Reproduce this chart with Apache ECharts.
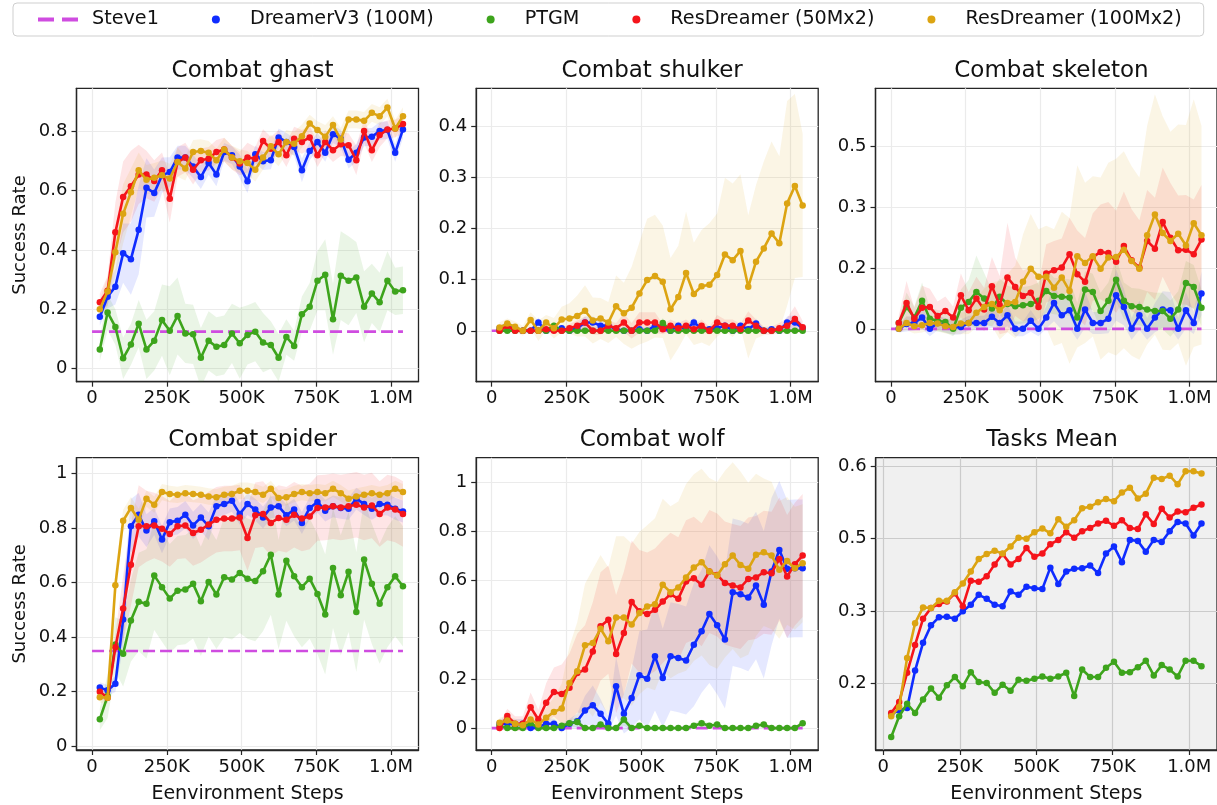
<!DOCTYPE html>
<html><head><meta charset="utf-8">
<script src="https://cdn.jsdelivr.net/npm/echarts@6/dist/echarts.min.js"></script>
<style>html,body{margin:0;padding:0;background:#fff}#c{width:1217px;height:805px}</style>
</head><body><div id="c"></div>
<script>
// ---------- DATA ----------
const methods = ['DreamerV3 (100M)', 'PTGM', 'ResDreamer (50Mx2)', 'ResDreamer (100Mx2)'];
const steps = [26000,52000,78000,104000,130000,156000,182000,208000,234000,260000,286000,312000,338000,364000,390000,416000,442000,468000,494000,520000,546000,572000,598000,624000,650000,676000,702000,728000,754000,780000,806000,832000,858000,884000,910000,936000,962000,988000,1014000,1040000];
const steveSteps = [0, 1040000];
const xTickVals = [0, 250000, 500000, 750000, 1000000];
const xTickLabels = ['0', '250K', '500K', '750K', '1.0M'];

// Combat ghast
const ghast_steve = 0.124;
const ghast_dreamer = [0.174,0.242,0.276,0.389,0.369,0.468,0.61,0.592,0.652,0.663,0.712,0.712,0.682,0.646,0.694,0.655,0.731,0.72,0.682,0.632,0.723,0.70,0.703,0.78,0.765,0.748,0.669,0.734,0.765,0.728,0.791,0.776,0.705,0.728,0.78,0.782,0.802,0.805,0.728,0.807];
const ghast_ptgm = [0.064,0.189,0.14,0.034,0.081,0.151,0.064,0.093,0.163,0.127,0.177,0.118,0.115,0.036,0.093,0.073,0.079,0.118,0.085,0.113,0.124,0.087,0.079,0.036,0.106,0.076,0.183,0.208,0.296,0.316,0.166,0.313,0.296,0.307,0.208,0.253,0.223,0.296,0.26,0.264];
const ghast_res50 = [0.223,0.262,0.46,0.579,0.615,0.655,0.655,0.633,0.669,0.573,0.697,0.712,0.671,0.703,0.708,0.731,0.739,0.712,0.692,0.712,0.708,0.768,0.742,0.765,0.72,0.776,0.765,0.78,0.72,0.765,0.737,0.757,0.754,0.703,0.802,0.737,0.788,0.807,0.81,0.825];
const ghast_res100 = [0.2,0.26,0.392,0.522,0.595,0.669,0.637,0.644,0.652,0.641,0.697,0.675,0.731,0.734,0.728,0.703,0.739,0.712,0.70,0.694,0.671,0.712,0.75,0.723,0.765,0.759,0.784,0.827,0.805,0.782,0.822,0.773,0.841,0.841,0.836,0.863,0.852,0.881,0.81,0.852];
const ghast_dreamer_sd = [0.03,0.04,0.06,0.1,0.12,0.15,0.1,0.08,0.06,0.05,0.04,0.04,0.04,0.04,0.04,0.04,0.03,0.03,0.04,0.04,0.03,0.03,0.03,0.03,0.03,0.03,0.04,0.03,0.03,0.03,0.03,0.03,0.03,0.03,0.03,0.03,0.03,0.03,0.03,0.03];
const ghast_ptgm_sd = [0.04,0.06,0.06,0.07,0.07,0.08,0.1,0.1,0.12,0.15,0.13,0.1,0.1,0.1,0.1,0.1,0.1,0.1,0.12,0.1,0.1,0.1,0.08,0.08,0.06,0.05,0.06,0.08,0.1,0.12,0.12,0.15,0.15,0.12,0.12,0.1,0.1,0.1,0.08,0.08];
const ghast_res50_sd = [0.03,0.05,0.1,0.12,0.12,0.1,0.08,0.07,0.06,0.08,0.05,0.05,0.05,0.04,0.04,0.04,0.04,0.04,0.04,0.05,0.04,0.04,0.04,0.04,0.04,0.04,0.04,0.04,0.04,0.04,0.04,0.04,0.04,0.05,0.04,0.04,0.04,0.03,0.03,0.03];
const ghast_res100_sd = [0.03,0.05,0.08,0.1,0.08,0.06,0.05,0.05,0.05,0.05,0.05,0.04,0.04,0.04,0.04,0.04,0.04,0.04,0.04,0.04,0.04,0.04,0.04,0.04,0.04,0.04,0.04,0.03,0.03,0.04,0.03,0.04,0.03,0.03,0.03,0.03,0.03,0.03,0.03,0.03];
const ghast_yTicks = [0, 0.2, 0.4, 0.6, 0.8];
const ghast_yLabels = ['0', '0.2', '0.4', '0.6', '0.8'];

// Combat shulker
const shulker_steve = 0;
const shulker_dreamer = [0.005,0.01,0.005,0,0,0.016,0,0.003,0.005,0,0.005,0.016,0.016,0.01,0.01,0.003,0,0,0.003,0,0.01,0.005,0,0.01,0.003,0.016,0.005,0.003,0.005,0.01,0,0.01,0.003,0.014,0,0.003,0,0.016,0.016,0.005];
const shulker_ptgm = [0,0,0,0,0,0,0,0.01,0,0,0,0,0,0,0,0,0,0,0,0,0,0.015,0,0,0,0,0,0,0,0,0,0,0,0,0,0,0,0,0,0];
const shulker_res50 = [0,0.01,0,0,0,0,0.003,0,0,0.005,0.01,0.016,0,0,0.01,0.005,0.016,0,0.016,0.016,0.016,0.003,0.01,0.005,0.01,0.003,0.01,0,0.016,0.01,0.01,0.003,0.02,0.01,0,0,0.005,0.01,0.023,0.007];
const shulker_res100 = [0.0065,0.014,0.008,0,0.021,0,0.016,0.005,0.022,0.024,0.029,0.039,0.02,0.024,0.016,0.048,0.034,0.045,0.073,0.099,0.107,0.096,0.042,0.066,0.113,0.072,0.087,0.09,0.109,0.149,0.138,0.156,0.086,0.135,0.161,0.19,0.171,0.249,0.283,0.245];
const shulker_dreamer_sd = [0.005,0.008,0.005,0.005,0.005,0.01,0.005,0.005,0.005,0.005,0.008,0.012,0.012,0.01,0.008,0.005,0.005,0.005,0.005,0.005,0.008,0.005,0.005,0.008,0.005,0.01,0.005,0.005,0.005,0.008,0.005,0.008,0.005,0.01,0.005,0.005,0.005,0.012,0.015,0.008];
const shulker_ptgm_sd = [0.003,0.003,0.003,0.003,0.003,0.003,0.003,0.008,0.003,0.003,0.003,0.003,0.003,0.003,0.003,0.003,0.003,0.003,0.003,0.003,0.003,0.01,0.003,0.003,0.003,0.003,0.003,0.003,0.003,0.003,0.003,0.003,0.003,0.003,0.003,0.003,0.003,0.003,0.003,0.003];
const shulker_res50_sd = [0.005,0.008,0.005,0.005,0.005,0.005,0.005,0.005,0.005,0.008,0.01,0.012,0.008,0.008,0.01,0.01,0.018,0.015,0.02,0.02,0.02,0.01,0.012,0.01,0.012,0.008,0.012,0.008,0.015,0.012,0.012,0.01,0.018,0.012,0.008,0.008,0.01,0.015,0.025,0.012];
const shulker_res100_sd = [0.01,0.01,0.01,0.01,0.015,0.02,0.015,0.02,0.025,0.03,0.04,0.05,0.045,0.04,0.04,0.06,0.06,0.08,0.1,0.12,0.12,0.11,0.1,0.1,0.12,0.1,0.11,0.12,0.12,0.15,0.15,0.15,0.14,0.15,0.17,0.18,0.17,0.2,0.18,0.14];
const shulker_yTicks = [0, 0.1, 0.2, 0.3, 0.4];
const shulker_yLabels = ['0', '0.1', '0.2', '0.3', '0.4'];

// Combat skeleton
const skeleton_steve = 0;
const skeleton_dreamer = [0,0.013,0.016,0.031,0,0.016,0.01,0.004,0.005,0.016,0.016,0.016,0.033,0.016,0.037,0,0,0.022,0,0.031,0.071,0.037,0.051,0,0.053,0.016,0.016,0.028,0.092,0.06,0,0.037,0,0.031,0.053,0.051,0,0.051,0.016,0.097];
const skeleton_ptgm = [0.016,0.06,0.031,0.077,0.028,0.022,0.019,0,0.058,0.074,0.101,0.083,0.056,0.088,0.068,0.062,0.065,0.068,0.077,0.104,0.09,0.088,0.086,0.031,0.108,0.101,0.049,0.077,0.135,0.077,0.062,0.06,0.053,0.049,0.049,0.028,0.053,0.126,0.115,0.058];
const skeleton_res50 = [0.016,0.071,0.028,0.058,0.06,0.035,0.049,0.031,0.092,0.051,0.083,0.053,0.117,0.065,0.141,0.115,0.09,0.099,0.06,0.152,0.161,0.168,0.205,0.15,0.129,0.197,0.211,0.208,0.184,0.227,0.188,0.168,0.241,0.22,0.293,0.25,0.216,0.217,0.205,0.245];
const skeleton_res100 = [0,0.016,0.007,0.01,0.016,0.015,0.007,0.005,0.015,0.016,0.044,0.06,0.068,0.051,0.071,0.074,0.129,0.165,0.143,0.143,0.113,0.141,0.104,0.199,0.181,0.199,0.165,0.196,0.197,0.217,0.186,0.165,0.257,0.314,0.263,0.241,0.261,0.229,0.29,0.257];
const skeleton_dreamer_sd = [0.01,0.02,0.02,0.03,0.02,0.02,0.02,0.02,0.02,0.02,0.02,0.02,0.03,0.02,0.03,0.02,0.02,0.03,0.02,0.03,0.05,0.04,0.05,0.03,0.05,0.03,0.03,0.04,0.07,0.05,0.03,0.04,0.03,0.04,0.05,0.05,0.03,0.05,0.03,0.06];
const skeleton_ptgm_sd = [0.01,0.04,0.03,0.05,0.03,0.03,0.03,0.02,0.05,0.06,0.1,0.07,0.05,0.05,0.05,0.05,0.05,0.05,0.05,0.06,0.05,0.05,0.05,0.04,0.05,0.05,0.05,0.05,0.06,0.05,0.05,0.05,0.05,0.05,0.05,0.05,0.05,0.06,0.06,0.05];
const skeleton_res50_sd = [0.02,0.06,0.03,0.06,0.05,0.04,0.04,0.03,0.06,0.05,0.06,0.06,0.08,0.08,0.15,0.08,0.07,0.07,0.06,0.08,0.08,0.08,0.1,0.12,0.12,0.12,0.13,0.14,0.14,0.15,0.14,0.13,0.14,0.14,0.15,0.15,0.15,0.15,0.15,0.15];
const skeleton_res100_sd = [0.01,0.02,0.02,0.02,0.02,0.02,0.02,0.02,0.03,0.03,0.04,0.05,0.06,0.08,0.08,0.1,0.13,0.15,0.13,0.14,0.16,0.18,0.2,0.25,0.22,0.22,0.25,0.26,0.27,0.27,0.26,0.25,0.3,0.33,0.32,0.3,0.3,0.33,0.34,0.3];
const skeleton_yTicks = [0, 0.1667, 0.3333, 0.5];
const skeleton_yLabels = ['0', '0.2', '0.3', '0.5'];

// Combat spider
const spider_steve = 0.349;
const spider_dreamer = [0.215,0.205,0.229,0.464,0.806,0.848,0.79,0.824,0.757,0.821,0.826,0.848,0.809,0.838,0.806,0.879,0.887,0.899,0.851,0.887,0.867,0.838,0.875,0.879,0.846,0.867,0.818,0.873,0.895,0.863,0.879,0.873,0.87,0.907,0.887,0.87,0.887,0.885,0.87,0.86];
const spider_ptgm = [0.099,0.184,0.373,0.339,0.461,0.529,0.522,0.626,0.583,0.541,0.57,0.574,0.595,0.531,0.602,0.556,0.619,0.611,0.635,0.614,0.605,0.641,0.702,0.556,0.68,0.623,0.583,0.614,0.558,0.483,0.653,0.553,0.639,0.492,0.684,0.595,0.522,0.583,0.623,0.586];
const spider_res50 = [0.2,0.178,0.363,0.505,0.665,0.806,0.806,0.809,0.797,0.778,0.806,0.809,0.781,0.793,0.812,0.83,0.834,0.834,0.838,0.763,0.846,0.851,0.818,0.836,0.83,0.848,0.834,0.842,0.873,0.875,0.879,0.875,0.879,0.885,0.875,0.882,0.851,0.875,0.867,0.851];
const spider_res100 = [0.18,0.178,0.59,0.826,0.873,0.83,0.907,0.885,0.931,0.924,0.921,0.927,0.924,0.921,0.915,0.912,0.921,0.924,0.936,0.936,0.931,0.921,0.943,0.909,0.912,0.924,0.931,0.927,0.931,0.927,0.943,0.927,0.907,0.915,0.921,0.927,0.921,0.927,0.943,0.931];
const spider_dreamer_sd = [0.02,0.02,0.03,0.1,0.1,0.08,0.06,0.05,0.05,0.05,0.05,0.05,0.05,0.05,0.05,0.04,0.04,0.04,0.04,0.04,0.04,0.04,0.04,0.04,0.04,0.04,0.04,0.04,0.04,0.04,0.04,0.04,0.04,0.04,0.04,0.04,0.04,0.04,0.04,0.04];
const spider_ptgm_sd = [0.04,0.08,0.1,0.12,0.15,0.18,0.2,0.2,0.2,0.2,0.2,0.2,0.2,0.2,0.2,0.2,0.22,0.22,0.22,0.22,0.22,0.22,0.22,0.2,0.22,0.22,0.22,0.22,0.22,0.22,0.22,0.22,0.22,0.22,0.22,0.22,0.22,0.22,0.22,0.22];
const spider_res50_sd = [0.02,0.02,0.05,0.12,0.15,0.15,0.13,0.12,0.12,0.12,0.12,0.12,0.12,0.12,0.12,0.12,0.12,0.12,0.12,0.12,0.12,0.12,0.12,0.12,0.12,0.12,0.12,0.12,0.12,0.12,0.12,0.12,0.12,0.12,0.12,0.12,0.12,0.12,0.12,0.12];
const spider_res100_sd = [0.02,0.02,0.05,0.04,0.04,0.04,0.03,0.03,0.03,0.03,0.03,0.03,0.03,0.03,0.03,0.03,0.03,0.03,0.03,0.03,0.03,0.03,0.03,0.03,0.03,0.03,0.03,0.03,0.03,0.03,0.03,0.03,0.03,0.03,0.03,0.03,0.03,0.03,0.03,0.03];
const spider_yTicks = [0, 0.2, 0.4, 0.6, 0.8, 1];
const spider_yLabels = ['0', '0.2', '0.4', '0.6', '0.8', '1'];

// Combat wolf
const wolf_steve = 0;
const wolf_dreamer = [0.018,0.018,0.015,0.018,0,0.004,0.018,0.018,0,0.018,0.028,0.072,0.093,0.058,0.018,0.17,0.058,0.123,0.215,0.201,0.292,0.204,0.292,0.285,0.275,0.339,0.394,0.464,0.418,0.36,0.553,0.545,0.531,0.58,0.502,0.637,0.725,0.648,0.65,0.65];
const wolf_ptgm = [0.01,0,0,0,0.02,0,0,0,0.01,0.02,0.025,0,0,0.015,0,0,0.035,0,0.01,0,0,0,0,0,0,0.01,0.02,0.01,0.015,0,0,0,0,0.01,0.015,0,0,0,0,0.02];
const wolf_res50 = [0,0.049,0.018,0.018,0.085,0.035,0.103,0.147,0.139,0.164,0.224,0.238,0.312,0.414,0.441,0.302,0.387,0.513,0.475,0.464,0.481,0.515,0.545,0.526,0.596,0.61,0.583,0.637,0.623,0.59,0.58,0.572,0.607,0.613,0.634,0.63,0.688,0.617,0.667,0.702];
const wolf_res100 = [0.022,0.031,0.018,0.012,0.035,0.015,0.042,0.066,0.08,0.184,0.231,0.337,0.346,0.404,0.353,0.45,0.45,0.421,0.468,0.495,0.504,0.583,0.553,0.572,0.613,0.653,0.675,0.637,0.621,0.667,0.702,0.664,0.648,0.705,0.715,0.702,0.644,0.68,0.65,0.671];
const wolf_dreamer_sd = [0.02,0.02,0.02,0.02,0.01,0.01,0.02,0.02,0.01,0.02,0.03,0.06,0.08,0.06,0.03,0.12,0.08,0.12,0.18,0.2,0.22,0.2,0.22,0.22,0.22,0.25,0.25,0.28,0.28,0.28,0.3,0.3,0.3,0.3,0.3,0.3,0.28,0.28,0.28,0.28];
const wolf_ptgm_sd = [0.01,0.005,0.005,0.005,0.015,0.005,0.005,0.005,0.01,0.015,0.02,0.005,0.005,0.012,0.005,0.005,0.025,0.005,0.01,0.005,0.005,0.005,0.005,0.005,0.005,0.01,0.015,0.01,0.012,0.005,0.005,0.005,0.005,0.01,0.012,0.005,0.005,0.005,0.005,0.015];
const wolf_res50_sd = [0.02,0.03,0.03,0.03,0.06,0.04,0.08,0.1,0.12,0.14,0.16,0.18,0.2,0.22,0.22,0.24,0.25,0.25,0.25,0.25,0.25,0.25,0.25,0.25,0.25,0.25,0.25,0.25,0.25,0.25,0.25,0.25,0.25,0.25,0.25,0.25,0.25,0.25,0.25,0.25];
const wolf_res100_sd = [0.02,0.02,0.02,0.02,0.03,0.03,0.04,0.06,0.1,0.15,0.2,0.25,0.3,0.3,0.3,0.33,0.33,0.33,0.33,0.33,0.35,0.35,0.35,0.35,0.38,0.38,0.38,0.38,0.38,0.38,0.38,0.38,0.35,0.33,0.3,0.3,0.28,0.26,0.25,0.24];
const wolf_yTicks = [0, 0.2, 0.4, 0.6, 0.8, 1];
const wolf_yLabels = ['0', '0.2', '0.4', '0.6', '0.8', '1'];

// Tasks Mean
const mean_dreamer = [0.144,0.151,0.155,0.224,0.275,0.307,0.322,0.323,0.319,0.333,0.345,0.363,0.356,0.345,0.342,0.369,0.363,0.378,0.375,0.374,0.413,0.383,0.406,0.411,0.412,0.417,0.403,0.439,0.452,0.423,0.464,0.462,0.442,0.464,0.46,0.48,0.497,0.494,0.472,0.494];
const mean_ptgm = [0.102,0.14,0.163,0.146,0.171,0.191,0.174,0.197,0.212,0.195,0.221,0.203,0.201,0.183,0.198,0.187,0.207,0.205,0.209,0.213,0.209,0.213,0.22,0.177,0.226,0.212,0.212,0.229,0.24,0.22,0.221,0.23,0.242,0.215,0.234,0.226,0.213,0.242,0.242,0.232];
const mean_res50 = [0.146,0.166,0.22,0.271,0.319,0.339,0.346,0.351,0.366,0.342,0.389,0.387,0.397,0.419,0.438,0.419,0.429,0.449,0.433,0.439,0.456,0.464,0.478,0.468,0.48,0.486,0.494,0.499,0.49,0.5,0.486,0.484,0.511,0.493,0.521,0.505,0.516,0.515,0.523,0.529];
const mean_res100 = [0.14,0.157,0.247,0.311,0.34,0.339,0.352,0.352,0.368,0.384,0.406,0.429,0.438,0.444,0.439,0.452,0.468,0.466,0.478,0.485,0.476,0.502,0.488,0.5,0.522,0.525,0.533,0.539,0.535,0.551,0.56,0.54,0.549,0.578,0.576,0.582,0.566,0.59,0.59,0.586];
const mean_yTicks = [0.2, 0.3333, 0.4667, 0.6];
const mean_yLabels = ['0.2', '0.3', '0.5', '0.6'];

// ---------- LAYOUT / STYLE ----------
const colors = ['#0f2cff', '#3da41c', '#f5141b', '#dca412'];
const steveColor = '#cf4ce0';
const FONT = 'DejaVu Sans';

const panels = [
  {title:'Combat ghast', steve:ghast_steve, lines:[ghast_dreamer,ghast_ptgm,ghast_res50,ghast_res100], sds:[ghast_dreamer_sd,ghast_ptgm_sd,ghast_res50_sd,ghast_res100_sd], yr:[-0.045,0.946], yt:ghast_yTicks, yl:ghast_yLabels, pos:[76.5,88.3,342,293.4], xr:[-52000,1092000]},
  {title:'Combat shulker', steve:shulker_steve, lines:[shulker_dreamer,shulker_ptgm,shulker_res50,shulker_res100], sds:[shulker_dreamer_sd,shulker_ptgm_sd,shulker_res50_sd,shulker_res100_sd], yr:[-0.0996,0.474], yt:shulker_yTicks, yl:shulker_yLabels, pos:[476.2,88.3,342,293.4], xr:[-52000,1092000]},
  {title:'Combat skeleton', steve:skeleton_steve, lines:[skeleton_dreamer,skeleton_ptgm,skeleton_res50,skeleton_res100], sds:[skeleton_dreamer_sd,skeleton_ptgm_sd,skeleton_res50_sd,skeleton_res100_sd], yr:[-0.145,0.66], yt:skeleton_yTicks, yl:skeleton_yLabels, pos:[875.5,88.3,342,293.4], xr:[-52000,1092000]},
  {title:'Combat spider', steve:spider_steve, lines:[spider_dreamer,spider_ptgm,spider_res50,spider_res100], sds:[spider_dreamer_sd,spider_ptgm_sd,spider_res50_sd,spider_res100_sd], yr:[-0.0135,1.057], yt:spider_yTicks, yl:spider_yLabels, pos:[76.5,457.7,342,293], xr:[-52000,1092000]},
  {title:'Combat wolf', steve:wolf_steve, lines:[wolf_dreamer,wolf_ptgm,wolf_res50,wolf_res100], sds:[wolf_dreamer_sd,wolf_ptgm_sd,wolf_res50_sd,wolf_res100_sd], yr:[-0.089,1.1], yt:wolf_yTicks, yl:wolf_yLabels, pos:[476.2,457.7,342,293], xr:[-52000,1092000]},
  {title:'Tasks Mean', steve:null, lines:[mean_dreamer,mean_ptgm,mean_res50,mean_res100], sds:null, yr:[0.078,0.615], yt:mean_yTicks, yl:mean_yLabels, pos:[875.7,457.7,342.5,293], xr:[-24700,1090700], shaded:true}
];

function labelFor(ticks, labels, v) {
  let best = 0, bd = Infinity;
  ticks.forEach((t, i) => { const d = Math.abs(t - v); if (d < bd) { bd = d; best = i; } });
  return bd < 1e-3 * Math.max(1, Math.abs(v)) + 1e-6 ? labels[best] : '';
}

const grid = [], xAxis = [], yAxis = [], series = [], title = [];
panels.forEach((p, i) => {
  const [l, t, w, h] = p.pos;
  const gl = p.shaded ? '#cbcbcb' : '#ebebeb';
  grid.push({left:l, top:t, width:w, height:h, show:true, borderColor:'#262626', borderWidth:1.3,
             backgroundColor: p.shaded ? '#f0f0f0' : 'rgba(0,0,0,0)'});
  title.push({text:p.title, left:l + w / 2, top:t - 34, textAlign:'center',
              textStyle:{fontFamily:FONT, fontSize:23, fontWeight:'normal', color:'#111'}});
  const bottomRow = i >= 3, leftCol = (i % 3) === 0;
  xAxis.push({type:'value', gridIndex:i, min:p.xr[0], max:p.xr[1],
    name: bottomRow ? 'Eenvironment Steps' : '', nameLocation:'middle', nameGap:35,
    nameTextStyle:{fontFamily:FONT, fontSize:19, color:'#111'},
    axisLine:{show:true, onZero:false, lineStyle:{color:'#262626', width:1.3}},
    axisTick:{show:true, length:5, customValues:xTickVals, lineStyle:{color:'#262626', width:1.2}},
    axisLabel:{customValues:xTickVals, margin:8, fontFamily:FONT, fontSize:18, color:'#111',
      formatter: v => labelFor(xTickVals, xTickLabels, v)},
    splitLine:{show:true, lineStyle:{color:gl, width:1.2}}});
  yAxis.push({type:'value', gridIndex:i, min:p.yr[0], max:p.yr[1],
    name: leftCol ? 'Success Rate' : '', nameLocation:'middle', nameGap:47, nameRotate:90,
    nameTextStyle:{fontFamily:FONT, fontSize:18, color:'#111'},
    axisLine:{show:true, onZero:false, lineStyle:{color:'#262626', width:1.3}},
    axisTick:{show:true, length:5, customValues:p.yt, lineStyle:{color:'#262626', width:1.2}},
    axisLabel:{customValues:p.yt, margin:9, fontFamily:FONT, fontSize:18, color:'#111',
      formatter: v => labelFor(p.yt, p.yl, v)},
    splitLine:{show:true, lineStyle:{color:gl, width:1.2}}});

  // shaded bands (mean +/- sd), drawn through the axes' scales
  if (p.sds) {
    p.lines.forEach((m, k) => {
      const sd = p.sds[k];
      const pts = steps.map((x, j) => [x, m[j] - sd[j], m[j] + sd[j]]);
      series.push({type:'custom', xAxisIndex:i, yAxisIndex:i, silent:true, z:1,
        data:pts, encode:{x:0, y:[1, 2]},
        renderItem: function (params, api) {
          if (params.dataIndex !== 0) return null;
          const up = pts.map(q => api.coord([q[0], q[2]]));
          const lo = pts.map(q => api.coord([q[0], q[1]])).reverse();
          const cs = params.coordSys;
          return {type:'polygon', shape:{points: up.concat(lo)},
            style:{fill: colors[k], opacity: 0.11},
            clipPath:{type:'rect', shape:{x:cs.x, y:cs.y, width:cs.width, height:cs.height}}};
        }});
    });
  }
  if (p.steve !== null) {
    series.push({type:'line', name:'Steve1', xAxisIndex:i, yAxisIndex:i, z:2,
      data: steveSteps.map(x => [x, p.steve]), symbol:'none', color:steveColor,
      lineStyle:{color:steveColor, width:2.6, type:[12, 5]}});
  }
  p.lines.forEach((m, k) => {
    series.push({type:'line', name:methods[k], xAxisIndex:i, yAxisIndex:i, z:3 + k,
      data: steps.map((x, j) => [x, m[j]]), symbol:'circle', symbolSize:6.5, color:colors[k],
      itemStyle:{color:colors[k]}, lineStyle:{color:colors[k], width:2.6}});
  });
});

const chart = echarts.init(document.getElementById('c'), null, {renderer:'canvas'});
chart.setOption({
  animation:false,
  backgroundColor:'#ffffff',
  title: title,
  grid: grid, xAxis: xAxis, yAxis: yAxis, series: series,
  legend: {top:3, left:13, orient:'horizontal', padding:[7, 22, 7, 25], itemGap:53,
    itemWidth:40, itemHeight:8, borderColor:'#cfcfcf', borderWidth:1, borderRadius:4,
    backgroundColor:'#ffffff',
    textStyle:{fontFamily:FONT, fontSize:19.2, color:'#111', padding:[0, 0, 0, 9]},
    data:[{name:'Steve1', icon:'path://M0,0H16V4H0Z M24,0H40V4H24Z'},
          {name:methods[0], icon:'circle'}, {name:methods[1], icon:'circle'},
          {name:methods[2], icon:'circle'}, {name:methods[3], icon:'circle'}]}
});
</script></body></html>
